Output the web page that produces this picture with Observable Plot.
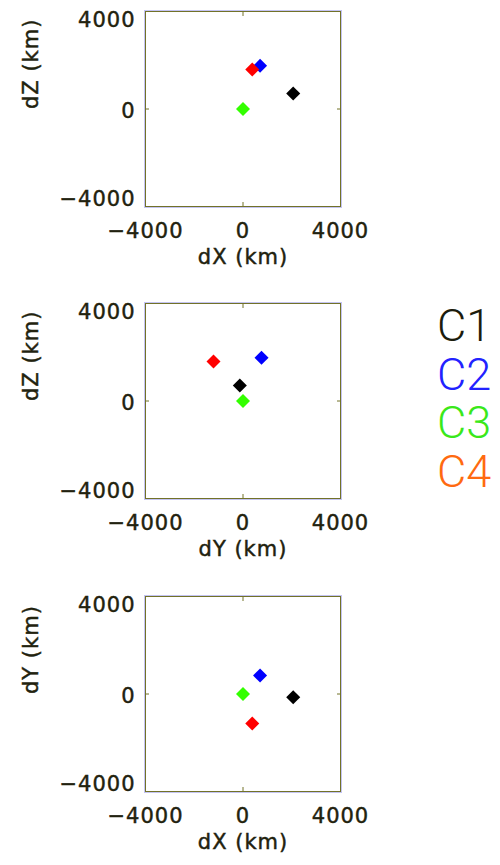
<!DOCTYPE html>
<html>
<head>
<meta charset="utf-8">
<script src="https://cdn.jsdelivr.net/npm/d3@7"></script>
<script src="https://cdn.jsdelivr.net/npm/@observablehq/plot@0.6"></script>
<style>
  html, body { margin: 0; padding: 0; background: #fff; }
  #wrap { position: relative; width: 500px; height: 865px; overflow: hidden; }
  .panel { position: absolute; left: 0; }
  .panel svg text { letter-spacing: 1px; stroke: #22220e; stroke-width: 0.45px; }
  #legend { position: absolute; left: 437px; top: 302px; font-family: Roboto, "Liberation Sans", sans-serif; font-weight: 300; font-size: 45px; line-height: 48.7px; }
</style>
</head>
<body>
<div id="wrap"></div>
<script>
// Spacecraft names and colours
const craft = ["C1", "C2", "C3", "C4"];
const markerColors = ["#000000", "#0000ff", "#33ff00", "#ff0000"];
const legendColors = ["#1c1c0c", "#2222ff", "#3ae81a", "#ff6a10"];
// Relative positions (km) with respect to C3
const dX = [2060, 700, 0, 380];
const dY = [-130, 760, 0, -1210];
const dZ = [640, 1770, 0, 1620];
// Axis ticks
const ticks = [-4000, 0, 4000];
const domain = [-4000, 4000];

const panels = [
  {xs: dX, ys: dZ, xl: "dX (km)", yl: "dZ (km)"},
  {xs: dY, ys: dZ, xl: "dY (km)", yl: "dZ (km)"},
  {xs: dX, ys: dY, xl: "dX (km)", yl: "dY (km)"}
];
const tops = [0, 292, 585];
const textColor = "#22220e";
const edge = "#727228";
const fmt = d => d < 0 ? "\u2212" + Math.abs(d) : String(d);

const wrap = document.getElementById("wrap");
panels.forEach((p, i) => {
  const data = craft.map((c, j) => ({c, x: p.xs[j], y: p.ys[j], col: markerColors[j]}));
  const chart = Plot.plot({
    width: 400, height: 292,
    marginLeft: 145, marginRight: 60, marginTop: 11, marginBottom: 86,
    style: {fontFamily: "DejaVu Sans", fontSize: "21px", color: textColor, background: "transparent"},
    x: {domain, ticks, label: null},
    y: {domain, ticks, label: null},
    marks: [
      Plot.frame({stroke: "#c4c4f2", inset: -1}),
      Plot.frame({stroke: edge}),
      // inward tick marks
      Plot.axisX({anchor: "bottom", ticks: [0], tickSize: -4, tickFormat: () => "", stroke: edge, label: null}),
      Plot.axisX({anchor: "top", ticks: [0], tickSize: -4, tickFormat: () => "", stroke: edge, label: null}),
      Plot.axisY({anchor: "left", ticks: [0], tickSize: -4, tickFormat: () => "", stroke: edge, label: null}),
      Plot.axisY({anchor: "right", ticks: [0], tickSize: -4, tickFormat: () => "", stroke: edge, label: null}),
      // tick labels
      Plot.axisX({anchor: "bottom", ticks, tickSize: 0, tickPadding: 17, tickFormat: fmt, fill: textColor, label: null}),
      Plot.axisY({anchor: "left", ticks: [4000], tickSize: 0, tickPadding: 10, dy: 9, tickFormat: fmt, fill: textColor, label: null}),
      Plot.axisY({anchor: "left", ticks: [0], tickSize: 0, tickPadding: 10, dy: 2, tickFormat: fmt, fill: textColor, label: null}),
      Plot.axisY({anchor: "left", ticks: [-4000], tickSize: 0, tickPadding: 10, dy: -7, tickFormat: fmt, fill: textColor, label: null}),
      // axis titles
      Plot.text([p.xl], {frameAnchor: "bottom", dy: 57, text: d => d, fill: textColor, fontSize: 21}),
      Plot.text([p.yl], {frameAnchor: "left", dx: -114, rotate: -90, text: d => d, fill: textColor, fontSize: 21}),
      Plot.dot(data, {x: "x", y: "y", fill: "col", symbol: "square", r: 5.6, rotate: 45, stroke: null})
    ]
  });
  const div = document.createElement("div");
  div.className = "panel";
  div.style.top = tops[i] + "px";
  div.appendChild(chart);
  wrap.appendChild(div);
});

const legend = document.createElement("div");
legend.id = "legend";
craft.forEach((c, j) => {
  const d = document.createElement("div");
  d.textContent = c;
  d.style.color = legendColors[j];
  legend.appendChild(d);
});
wrap.appendChild(legend);
</script>
</body>
</html>
